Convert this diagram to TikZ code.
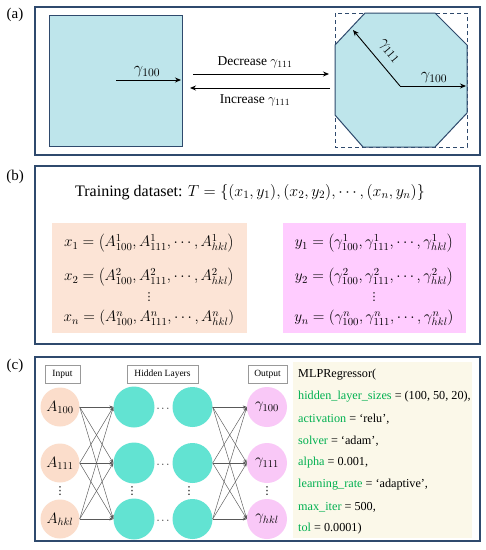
\documentclass[tikz,border=0pt]{standalone}
\usepackage{fix-cm}
\usepackage{fontspec}
\setmainfont{Liberation Serif}
\newfontfamily\djv{DejaVu Sans}
\usetikzlibrary{arrows.meta}
\definecolor{frameblue}{RGB}{47,74,109}
\definecolor{lblue}{RGB}{190,229,235}
\definecolor{peach}{RGB}{252,228,214}
\definecolor{pinkbox}{RGB}{255,204,255}
\definecolor{incirc}{RGB}{251,221,203}
\definecolor{teal}{RGB}{98,227,210}
\definecolor{outcirc}{RGB}{249,200,247}
\definecolor{codebg}{RGB}{251,248,233}
\definecolor{codegreen}{RGB}{0,176,80}
\begin{document}
\begin{tikzpicture}[x=1pt,y=-1pt,
  panel/.style={draw=frameblue,line width=1.3pt},
  plabel/.style={font=\fontsize{15}{17}\selectfont,inner sep=0pt},
  txt/.style={font=\fontsize{13.5}{15}\selectfont,inner sep=0pt},
  gam/.style={font=\fontsize{16.5}{18}\selectfont,inner sep=0pt},
  eq/.style={font=\fontsize{15.3}{18}\selectfont,inner sep=0pt},
  vd/.style={font=\djv\fontsize{11}{12}\selectfont,inner sep=0pt},
  blk/.style={-{Stealth[length=6pt,width=5pt]},line width=0.9pt,black},
  tagbox/.style={draw=gray!80,line width=0.6pt,fill=white,inner sep=0pt,font=\fontsize{9.5}{11}\selectfont,minimum height=18pt},
  incircle/.style={circle,fill=incirc,minimum size=39pt,inner sep=0pt,font=\fontsize{15}{17}\selectfont},
  hid/.style={circle,fill=teal,minimum size=41pt,inner sep=0pt},
  outcircle/.style={circle,fill=outcirc,minimum size=40pt,inner sep=0pt,font=\fontsize{15}{17}\selectfont},
  conn/.style={-{Stealth[length=4pt,width=3pt]},line width=0.45pt,draw=black!65},
  code/.style={font=\fontsize{12.2}{14}\selectfont,inner sep=0pt,anchor=west},
  dots/.style={inner sep=0pt,font=\fontsize{11}{12}\selectfont}
]
\useasboundingbox (0,0) rectangle (486,550);
\fill[white] (0,0) rectangle (486,550);

% ---------- panel (a)
\draw[panel] (35,7) rectangle (480,155);
\node[plabel] (la) at (15,15) {(a)};
\draw[fill=lblue,draw=frameblue,line width=1pt] (49,15) rectangle (182,146);
\coordinate (s0) at (116,80);
\coordinate (s1) at (181,80);
\draw[blk] (s0) -- (s1);
\node[gam] (sg) at (147,72) {$\gamma_{100}$};

\coordinate (d0) at (193,74);
\coordinate (d1) at (329,74);
\coordinate (i0) at (330,88);
\coordinate (i1) at (190,88);
\draw[blk] (d0) -- (d1);
\draw[blk] (i0) -- (i1);
\node[txt] (dec) at (255,62) {Decrease $\gamma_{111}$};
\node[txt] (inc) at (255,100) {Increase $\gamma_{111}$};

\draw[draw=frameblue,line width=1pt,dash pattern=on 4pt off 3pt] (335,13) rectangle (467,147);
\draw[fill=lblue,draw=frameblue,line width=1pt] (365,13) -- (435,13) -- (467,45) -- (467,113) -- (435,147) -- (363,147) -- (335,115) -- (335,45) -- cycle;
\coordinate (oc) at (400,86);
\coordinate (oe) at (466,86);
\coordinate (ou) at (353,30);
\draw[blk] (oc) -- (oe);
\draw[blk] (oc) -- (ou);
\node[gam] (og) at (434,78) {$\gamma_{100}$};
\node[gam,rotate=-50] (og2) at (389,51) {$\gamma_{111}$};

% ---------- panel (b)
\draw[panel] (35,166) rectangle (480,344);
\node[plabel] (lb) at (15,177) {(b)};
\node[eq,font=\fontsize{16}{18}\selectfont] (title) at (250,192) {Training dataset: $T=\{(x_1,y_1),(x_2,y_2),\cdots,(x_n,y_n)\}$};
\fill[peach] (52,223) rectangle (247,333);
\fill[pinkbox] (283,223) rectangle (466,333);
\node[eq] (x1) at (149,243) {$x_1=\left(A^1_{100},A^1_{111},\cdots,A^1_{hkl}\right)$};
\node[eq] (x2) at (149,277) {$x_2=\left(A^2_{100},A^2_{111},\cdots,A^2_{hkl}\right)$};
\node[vd] (xv) at (149,297) {⋮};
\node[eq] (xn) at (149,318) {$x_n=\left(A^n_{100},A^n_{111},\cdots,A^n_{hkl}\right)$};
\node[eq] (y1) at (374,243) {$y_1=\left(\gamma^1_{100},\gamma^1_{111},\cdots,\gamma^1_{hkl}\right)$};
\node[eq] (y2) at (374,277) {$y_2=\left(\gamma^2_{100},\gamma^2_{111},\cdots,\gamma^2_{hkl}\right)$};
\node[vd] (yv) at (374,297) {⋮};
\node[eq] (yn) at (374,318) {$y_n=\left(\gamma^n_{100},\gamma^n_{111},\cdots,\gamma^n_{hkl}\right)$};

% ---------- panel (c)
\draw[panel] (35,357) rectangle (480,541);
\node[plabel] (lc) at (15,366) {(c)};
\node[tagbox,minimum width=35pt] (tin) at (62.5,374) {Input};
\node[tagbox,minimum width=71pt] (thid) at (162.5,374) {Hidden Layers};
\node[tagbox,minimum width=39pt] (tout) at (267.5,374) {Output};

\node[incircle] (a1) at (60,407) {$A_{100}$};
\node[incircle] (a2) at (60,463) {$A_{111}$};
\node[incircle] (a3) at (60,519) {$A_{hkl}$};
\node[vd] (av) at (60,491) {⋮};

\foreach \r/\y in {1/407,2/463,3/519}{
  \node[hid] (h\r) at (134,\y) {};
  \node[hid,minimum size=40pt] (k\r) at (192.5,\y) {};
  \node[dots] (hd\r) at (163,\y+2) {$\cdots$};
}
\node[vd] (hv1) at (132,491) {⋮};
\node[vd] (hv2) at (189,491) {⋮};

\node[outcircle] (g1) at (267,407) {$\gamma_{100}$};
\node[outcircle] (g2) at (267,463) {$\gamma_{111}$};
\node[outcircle] (g3) at (267,519) {$\gamma_{hkl}$};
\node[vd] (gv) at (267,491) {⋮};

\foreach \i in {1,2,3}{
  \foreach \j in {1,2,3}{
    \draw[conn] (a\i.east) -- (h\j.west);
    \draw[conn] (k\i.east) -- (g\j.west);
  }
}

\fill[codebg] (293,362) rectangle (472,538);
\node[code] (c0) at (298,375) {MLPRegressor(};
\node[code] (c1) at (298,397) {\textcolor{codegreen}{hidden\_layer\_sizes} = (100, 50, 20),};
\node[code] (c2) at (298,419) {\textcolor{codegreen}{activation} = ‘relu’,};
\node[code] (c3) at (298,441) {\textcolor{codegreen}{solver} = ‘adam’,};
\node[code] (c4) at (298,463) {\textcolor{codegreen}{alpha} = 0.001,};
\node[code] (c5) at (298,485) {\textcolor{codegreen}{learning\_rate} = ‘adaptive’,};
\node[code] (c6) at (298,507) {\textcolor{codegreen}{max\_iter} = 500,};
\node[code] (c7) at (298,529) {\textcolor{codegreen}{tol} = 0.0001)};
\end{tikzpicture}
\end{document}
